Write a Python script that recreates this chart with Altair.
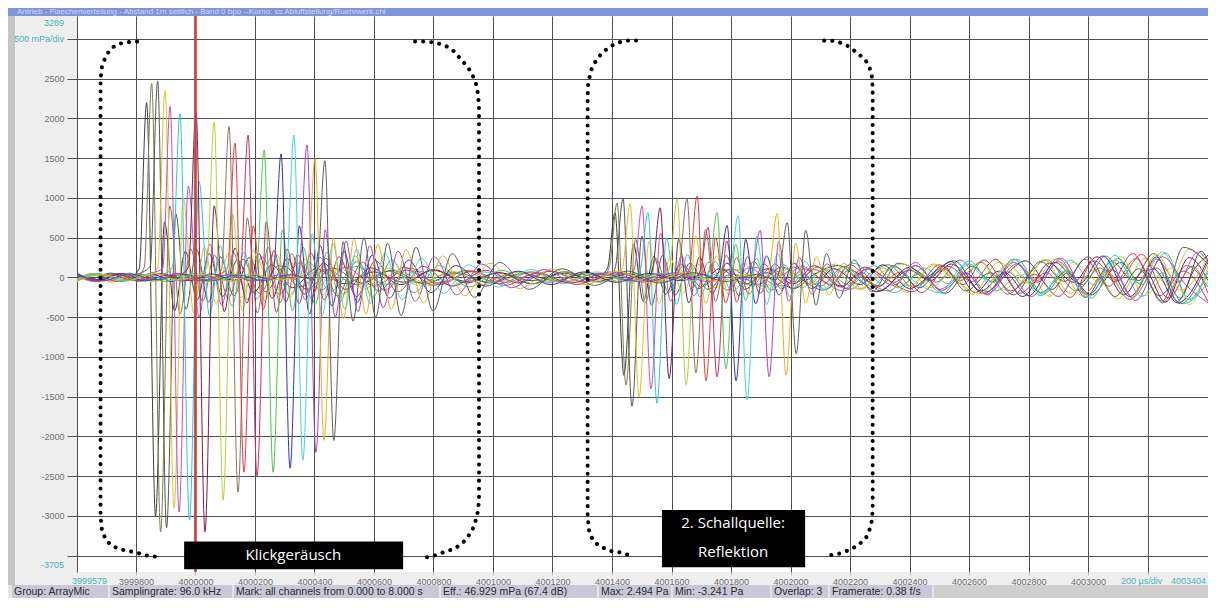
import altair as alt
import pandas as pd

T0 = 4000000  # time origin of the relative times below, in µs

# ---- 17 microphone channels: [time relative to 4000000 µs, sound pressure in mPa] ----
ch_a = [[-398, 40], [-340, -35], [-285, 55], [-230, -25], [-189, 110], [-164, 2200], [-134, -3000], [-104, 700],
        [-70, -420], [-34, 330], [6, -280], [46, 300], [91, -240], [141, 220], [196, -190], [256, 160], [326, -130],
        [406, 110], [500, -80], [600, 70], [700, -60], [800, 90], [910, -50], [1020, 60], [1130, -40], [1240, 50],
        [1340, -30], [1385, 120], [1410, 815], [1440, -1230], [1472, 420], [1505, -300], [1540, 260], [1580, -210],
        [1630, 170], [1690, -140], [1760, 110], [1850, -80], [1920, 60], [2010, -140], [2080, 40], [2160, 150],
        [2240, -60], [2290, -180], [2400, 90], [2470, -40], [2540, 170], [2650, -200], [2720, 20], [2790, 210],
        [2880, -150], [2930, 60], [3010, -220], [3110, 190], [3170, -40], [3230, 260], [3300, -300], [3360, 120],
        [3403, 280]]
ch_b = [[-398, -30], [-345, 50], [-290, -45], [-235, 35], [-205, -20], [-172, 130], [-147, 2440], [-117, -3200],
        [-86, 900], [-52, -460], [-16, 360], [24, -300], [64, 280], [110, -260], [160, 230], [215, -200], [280, 150],
        [350, -120], [440, 100], [540, -90], [650, 80], [750, -70], [860, 60], [970, -50], [1080, 70], [1190, -60],
        [1300, 40], [1365, -20], [1392, 150], [1417, 938], [1447, -1350], [1479, 480], [1512, -320], [1548, 240],
        [1590, -190], [1640, 150], [1700, -120], [1780, 100], [1870, -100], [1930, 110], [2020, -60], [2090, 130],
        [2200, -150], [2260, 30], [2330, 160], [2410, -120], [2520, 100], [2570, -40], [2640, 190], [2730, -210],
        [2800, 40], [2860, 220], [2960, -170], [3040, 120], [3090, -60], [3160, 240], [3250, -320], [3330, 150],
        [3403, -120]]
ch_c = [[-398, 60], [-350, -20], [-300, 45], [-250, -50], [-200, 30], [-152, 140], [-127, 2470], [-97, -3150],
        [-66, 800], [-32, -400], [4, 350], [44, -310], [84, 260], [129, -230], [180, 250], [236, -180], [300, 140],
        [375, -150], [460, 120], [560, -70], [660, 90], [770, -80], [880, 60], [990, -70], [1100, 50], [1210, -40],
        [1320, 60], [1390, -30], [1412, 140], [1437, 988], [1467, -1620], [1500, 520], [1533, -350], [1570, 280],
        [1612, -220], [1662, 180], [1722, -150], [1800, 110], [1890, -90], [1970, 130], [2040, -30], [2110, -160],
        [2200, 90], [2300, -110], [2360, 180], [2450, 20], [2520, -200], [2610, 140], [2680, -60], [2750, 230],
        [2840, -190], [2930, 80], [2990, -250], [3080, 200], [3150, -30], [3220, 300], [3310, -260], [3380, 330],
        [3403, 210]]
ch_d = [[-398, -50], [-340, 30], [-280, -60], [-220, 40], [-165, -30], [-127, 120], [-102, 2350], [-72, -2900],
        [-41, 1000], [-6, -450], [30, 380], [70, -330], [110, 300], [155, -250], [205, 240], [262, -200], [325, 170],
        [400, -140], [485, 110], [580, -90], [690, 70], [790, -100], [900, 80], [1010, -60], [1120, 70], [1230, -50],
        [1340, 40], [1410, -40], [1436, 130], [1461, 926], [1491, -1500], [1524, 450], [1558, -330], [1595, 250],
        [1637, -200], [1687, 170], [1747, -130], [1825, 100], [1915, -120], [1990, 60], [2060, -80], [2150, 170],
        [2230, -140], [2320, 40], [2390, -190], [2480, 150], [2560, -30], [2640, 200], [2710, -160], [2800, 60],
        [2870, -240], [2950, 190], [3040, -60], [3110, 260], [3190, -230], [3280, 120], [3340, -340], [3403, 140]]
ch_e = [[-398, 20], [-335, -55], [-275, 40], [-215, -35], [-160, 45], [-110, 110], [-85, 2150], [-55, -2950],
        [-24, 1150], [12, -500], [48, 420], [88, -350], [128, 310], [174, -280], [224, 260], [282, -210], [346, 180],
        [420, -160], [505, 130], [600, -100], [710, 90], [820, -70], [930, 80], [1040, -60], [1150, 50], [1260, -70],
        [1370, 40], [1450, -30], [1476, 120], [1501, 900], [1531, -1400], [1563, 560], [1597, -300], [1633, 270],
        [1675, -230], [1725, 190], [1785, -160], [1860, 120], [1950, -90], [2040, 140], [2100, -20], [2180, -170],
        [2260, 110], [2350, -60], [2420, 190], [2500, -150], [2590, 60], [2660, -220], [2760, 170], [2830, -40],
        [2900, 240], [2990, -200], [3060, 90], [3140, -280], [3230, 230], [3300, -60], [3370, 320], [3403, 180]]
ch_f = [[-398, -40], [-340, 45], [-280, -30], [-220, 55], [-160, -40], [-110, 30], [-77, 130], [-52, 2060],
        [-20, -3050], [12, 1210], [47, -480], [83, 400], [123, -360], [163, 320], [208, -270], [258, 280], [316, -220],
        [380, 190], [455, -170], [540, 140], [640, -90], [750, 80], [860, -100], [970, 70], [1080, -60], [1190, 80],
        [1300, -50], [1410, 40], [1475, -40], [1496, 110], [1521, 815], [1551, -1580], [1583, 500], [1617, -340],
        [1653, 290], [1695, -240], [1745, 200], [1805, -170], [1880, 130], [1970, -110], [2040, 40], [2120, -150],
        [2210, 180], [2290, -40], [2350, -190], [2450, 120], [2530, -80], [2600, 210], [2690, -170], [2770, 30],
        [2840, -230], [2940, 220], [3020, -90], [3090, 280], [3180, -240], [3250, 60], [3320, -330], [3403, -60]]
ch_g = [[-398, 30], [-330, -45], [-265, 50], [-200, -40], [-140, 35], [-80, -50], [-45, 40], [-23, 140], [2, 2080],
        [32, -3200], [63, 900], [97, -430], [133, 370], [173, -320], [213, 300], [258, -260], [308, 240], [366, -210],
        [430, 180], [505, -150], [590, 120], [690, -90], [800, 100], [910, -70], [1020, 60], [1130, -80], [1240, 70],
        [1350, -50], [1460, 50], [1515, -30], [1537, 120], [1562, 877], [1592, -1270], [1624, 480], [1658, -320],
        [1694, 260], [1736, -200], [1786, 180], [1846, -150], [1920, 110], [2010, -80], [2080, 150], [2170, -110],
        [2240, 60], [2300, -170], [2400, 130], [2460, -20], [2540, 200], [2620, -190], [2700, 80], [2780, -240],
        [2870, 180], [2950, -60], [3030, 260], [3120, -220], [3190, 90], [3260, -310], [3340, 250], [3403, -40]]
ch_h = [[-398, -20], [-335, 50], [-270, -40], [-205, 30], [-140, -55], [-75, 40], [-10, -30], [38, 120], [63, 1950],
        [93, -2800], [124, 800], [158, -420], [194, 350], [234, -300], [274, 290], [319, -250], [369, 230], [427, -220],
        [491, 170], [566, -150], [650, 120], [750, -100], [860, 80], [970, -90], [1080, 70], [1190, -50], [1300, 60],
        [1410, -60], [1510, 40], [1570, -30], [1594, 130], [1619, 988], [1649, -1350], [1681, 520], [1715, -330],
        [1751, 270], [1793, -220], [1843, 180], [1903, -140], [1980, 110], [2070, -100], [2140, 120], [2230, -150],
        [2300, 50], [2380, 170], [2470, -130], [2540, 40], [2610, -210], [2700, 190], [2790, -70], [2850, 230],
        [2940, -200], [3020, 100], [3100, -270], [3190, 240], [3270, -100], [3340, 360], [3403, 120]]
ch_i = [[-398, 50], [-330, -30], [-260, 45], [-190, -50], [-120, 35], [-50, -40], [20, 30], [60, -30], [88, 110],
        [113, 1900], [143, -2700], [174, 750], [208, -450], [244, 380], [284, -320], [324, 300], [369, -280],
        [419, 250], [477, -230], [541, 200], [616, -170], [700, 130], [800, -100], [910, 90], [1020, -80], [1130, 70],
        [1240, -60], [1350, 50], [1460, -40], [1560, 50], [1610, -30], [1627, 140], [1652, 988], [1682, -1200],
        [1714, 600], [1748, -300], [1784, 280], [1826, -230], [1876, 200], [1936, -160], [2010, 130], [2100, -110],
        [2180, 140], [2250, -30], [2330, -170], [2420, 150], [2490, -60], [2570, 220], [2660, -180], [2730, 70],
        [2810, -240], [2900, 200], [2980, -90], [3060, 270], [3150, -250], [3230, 120], [3310, -330], [3403, 190]]
ch_j = [[-398, -40], [-330, 35], [-265, -50], [-195, 45], [-125, -30], [-55, 50], [15, -40], [75, 30], [108, 120],
        [133, 1690], [163, -2450], [194, 650], [228, -400], [264, 340], [304, -310], [344, 290], [389, -260],
        [439, 240], [497, -210], [561, 190], [636, -160], [720, 120], [820, -90], [930, 80], [1040, -100], [1150, 60],
        [1260, -70], [1370, 50], [1480, -50], [1580, 40], [1640, -30], [1661, 120], [1686, 1025], [1716, -1300],
        [1748, 500], [1782, -320], [1818, 250], [1860, -210], [1910, 170], [1970, -140], [2045, 110], [2135, -90],
        [2200, 160], [2290, -120], [2370, 70], [2440, -190], [2530, 140], [2610, -50], [2690, 230], [2770, -200],
        [2860, 60], [2940, -250], [3020, 210], [3100, -40], [3180, 290], [3270, -260], [3350, 140], [3403, -200]]
ch_k = [[-398, 25], [-325, -45], [-255, 40], [-185, -35], [-115, 50], [-45, -45], [25, 35], [95, -30], [135, 20],
        [152, 130], [177, 1790], [207, -2500], [238, 700], [272, -440], [308, 360], [348, -330], [388, 310],
        [433, -280], [483, 260], [541, -240], [605, 210], [680, -180], [765, 140], [865, -110], [975, 90], [1085, -70],
        [1195, 80], [1305, -60], [1415, 60], [1525, -50], [1620, 40], [1675, -30], [1698, 110], [1723, 630],
        [1753, -1250], [1785, 460], [1819, -310], [1855, 260], [1897, -200], [1947, 170], [2007, -140], [2080, 100],
        [2170, -120], [2250, 130], [2330, -40], [2410, -180], [2500, 160], [2580, -90], [2650, 220], [2740, -170],
        [2820, 40], [2900, -240], [2990, 230], [3070, -110], [3150, 300], [3240, -230], [3320, 80], [3403, -300]]
ch_l = [[-398, -35], [-325, 50], [-250, -40], [-175, 35], [-100, -50], [-25, 40], [50, -35], [125, 45], [185, -25],
        [206, 110], [231, 1605], [261, -2450], [292, 600], [326, -420], [362, 380], [402, -340], [442, 320],
        [487, -300], [537, 270], [595, -250], [659, 220], [734, -190], [818, 150], [918, -120], [1028, 90],
        [1138, -80], [1248, 70], [1358, -60], [1468, 50], [1578, -50], [1660, 40], [1705, -30], [1728, 120],
        [1753, 815], [1783, -1150], [1815, 420], [1849, -290], [1885, 240], [1927, -190], [1977, 160], [2037, -130],
        [2110, 100], [2200, -100], [2280, 150], [2360, -130], [2430, 40], [2510, -200], [2600, 170], [2680, -60],
        [2760, 230], [2850, -210], [2930, 90], [3010, -260], [3100, 240], [3180, -90], [3260, 310], [3340, -280],
        [3403, 60]]
ch_m = [[-398, 45], [-320, -30], [-245, 50], [-170, -45], [-95, 30], [-20, -40], [55, 45], [130, -35], [200, 30],
        [240, -20], [263, 120], [288, 1555], [318, -2400], [349, 650], [383, -460], [419, 400], [459, -360],
        [499, 330], [544, -310], [594, 280], [652, -260], [716, 220], [791, -190], [875, 150], [975, -110],
        [1085, 80], [1195, -90], [1305, 70], [1415, -60], [1525, 50], [1630, -40], [1710, 40], [1740, -20],
        [1762, 110], [1787, 654], [1817, -1300], [1849, 480], [1883, -330], [1919, 270], [1961, -220], [2011, 180],
        [2071, -140], [2145, 110], [2235, -90], [2310, 160], [2400, -140], [2470, 30], [2550, 210], [2640, -170],
        [2720, 60], [2800, -230], [2890, 190], [2970, -80], [3050, 270], [3140, -240], [3220, 110], [3300, -320],
        [3403, 230]]
ch_n = [[-398, -25], [-320, 40], [-240, -50], [-160, 35], [-80, -40], [0, 50], [80, -35], [160, 40], [240, -30],
        [290, 25], [306, 120], [331, 1790], [361, -2300], [392, 550], [426, -480], [462, 430], [502, -400],
        [542, 360], [587, -330], [637, 300], [695, -280], [759, 240], [834, -200], [918, 160], [1018, -120],
        [1128, 100], [1238, -80], [1348, 70], [1458, -60], [1568, 50], [1670, -40], [1750, 40], [1780, -20],
        [1799, 120], [1824, 778], [1854, -1540], [1886, 520], [1920, -340], [1956, 300], [1998, -240], [2048, 200],
        [2108, -160], [2180, 130], [2270, -110], [2350, 130], [2420, -60], [2500, -190], [2590, 170], [2670, -40],
        [2750, 230], [2840, -210], [2920, 80], [3000, -250], [3090, 220], [3170, -70], [3250, 320], [3340, -270],
        [3403, 90]]
ch_o = [[-398, 35], [-315, -45], [-230, 40], [-145, -35], [-60, 50], [25, -40], [110, 35], [195, -45], [280, 30],
        [340, -25], [350, 110], [375, 1667], [405, -2200], [436, 600], [470, -500], [506, 460], [546, -430],
        [586, 400], [631, -380], [681, 330], [739, -300], [803, 260], [878, -220], [962, 170], [1062, -130],
        [1172, 100], [1282, -90], [1392, 70], [1502, -60], [1612, 60], [1720, -50], [1810, 40], [1855, -30],
        [1873, 110], [1898, 593], [1928, -1250], [1960, 450], [1994, -300], [2030, 250], [2072, -210], [2122, 170],
        [2182, -140], [2255, 110], [2345, -100], [2420, 150], [2510, -160], [2590, 50], [2660, -210], [2750, 190],
        [2830, -60], [2910, 240], [3000, -220], [3080, 100], [3160, -290], [3250, 260], [3330, -100], [3403, -320]]
ch_p = [[-398, -45], [-310, 35], [-225, -40], [-140, 50], [-55, -35], [30, 40], [115, -50], [200, 35], [285, -30],
        [360, 25], [377, 120], [402, 1494], [432, -2050], [463, 500], [497, -520], [533, 480], [573, -460],
        [613, 420], [658, -400], [708, 350], [766, -320], [830, 270], [905, -230], [990, 180], [1090, -140],
        [1200, 110], [1310, -90], [1420, 80], [1530, -70], [1640, 60], [1750, -50], [1860, 40], [1915, -30],
        [1930, 120], [1955, 802], [1985, -1230], [2017, 430], [2051, -320], [2087, 260], [2129, -220], [2179, 180],
        [2239, -150], [2310, 120], [2400, -110], [2480, 170], [2560, -60], [2640, -200], [2730, 160], [2810, -90],
        [2890, 230], [2980, -230], [3060, 70], [3140, -270], [3230, 290], [3310, -160], [3403, 250]]
ch_q = [[-398, 30], [-310, -40], [-220, 45], [-130, -30], [-40, 40], [50, -45], [140, 30], [230, -40], [320, 35],
        [390, -20], [410, 110], [435, 1469], [465, -2050], [496, 450], [530, -550], [566, 500], [606, -500],
        [646, 430], [691, -480], [741, 380], [799, -420], [863, 300], [938, -250], [1022, 190], [1122, -150],
        [1232, 110], [1342, -100], [1452, 80], [1562, -70], [1672, 60], [1782, -50], [1890, 40], [1950, -30],
        [1964, 110], [1989, 691], [2019, -960], [2051, 593], [2085, -350], [2121, 300], [2163, -260], [2213, 220],
        [2273, -180], [2345, 150], [2435, -130], [2510, 150], [2590, -170], [2670, 60], [2750, -220], [2840, 200],
        [2920, -50], [3000, 260], [3090, -240], [3170, 110], [3250, -300], [3320, 380], [3403, 170]]

CHANNEL_NAMES = ["K%02d" % (i + 1) for i in range(17)]
CHANNEL_POINTS = [ch_a, ch_b, ch_c, ch_d, ch_e, ch_f, ch_g, ch_h, ch_i, ch_j, ch_k, ch_l, ch_m, ch_n, ch_o, ch_p, ch_q]
CHANNEL_COLORS = ["#3c3c3c", "#7d7b4e", "#555555", "#d9c52a", "#c64fc6", "#2fc6d6", "#7b1a52", "#b5cf3c",
                  "#8c725f", "#e23b3b", "#c9305f", "#4cc44c", "#2f34b4", "#45d3d8", "#a646c4", "#e2b21e", "#5e5e5e"]

# ---- axes ----
x_ticks = [3999800, 4000000, 4000200, 4000400, 4000600, 4000800, 4001000, 4001200, 4001400, 4001600,
           4001800, 4002000, 4002200, 4002400, 4002600, 4002800, 4003000, 4003200]
y_ticks = [-3500, -3000, -2500, -2000, -1500, -1000, -500, 0, 500, 1000, 1500, 2000, 2500, 3000]
X_DOMAIN = [3999602, 4003403]
Y_DOMAIN = [-3705, 3289]

# ---- annotations (data units: µs relative to 4000000, mPa) ----
marker_t = [0]
bracket_click_open = [[-196, 2967], [-227, 2961], [-253, 2942], [-280, 2893], [-300, 2794], [-314, 2658],
                      [-319, 2484], [-319, -3000], [-314, -3186], [-300, -3310], [-277, -3384], [-237, -3434],
                      [-200, -3458], [-169, -3495], [-119, -3520]]
bracket_click_close = [[738, 2967], [772, 2967], [806, 2955], [839, 2918], [866, 2856], [889, 2757], [913, 2658],
                       [930, 2559], [943, 2435], [950, 2299], [953, 2138], [953, -2814], [947, -3000], [930, -3186],
                       [906, -3310], [873, -3409], [833, -3458], [806, -3495], [779, -3520], [752, -3520]]
bracket_refl_open = [[1481, 2980], [1454, 2980], [1427, 2961], [1400, 2918], [1377, 2856], [1360, 2794],
                     [1343, 2707], [1330, 2608], [1320, 2447], [1318, 2261], [1318, -3000], [1323, -3186],
                     [1336, -3310], [1360, -3384], [1400, -3446], [1427, -3458], [1447, -3483], [1471, -3495]]
bracket_refl_close = [[2113, 2980], [2143, 2976], [2166, 2955], [2190, 2918], [2213, 2856], [2234, 2794],
                      [2254, 2720], [2266, 2633], [2274, 2521], [2276, 2360], [2276, -2938], [2271, -3124],
                      [2254, -3272], [2227, -3371], [2200, -3421], [2177, -3458], [2150, -3489], [2123, -3495]]
box_t0 = [-38, 1568]
box_t1 = [698, 2049]
box_v0 = [-3669, -3644]
box_v1 = [-3322, -2926]
note_text = ["Klickgeräusch", "2. Schallquelle:", "Reflektion"]
note_t = [329, 1807, 1807]
note_v = [-3495, -3087, -3458]

TITLE_TEXT = "Antrieb - Flaechenverteilung - Abstand 1m seitlich - Band 0 bpo --Korno: ss Abluftstellung/Ruehrwerk.chl"
STATUS_TEXTS = ["Group: ArrayMic", "Samplingrate: 96.0 kHz", "Mark: all channels from 0.000 to 8.000 s",
                "Eff.: 46.929 mPa (67.4 dB)", "Max: 2.494 Pa", "Min: -3.241 Pa", "Overlap: 3",
                "Framerate: 0.38 f/s"]

# ---- layout / style ----
W, H = 1131, 556
PAD = {"left": 69, "top": 8, "right": 0, "bottom": 26}
STATUS_BOX_PX = [(-65, 31), (33, 155), (157, 362), (364, 520), (522, 594), (596, 693), (695, 751), (753, 855)]
GRID = "#4f4f4f"
LABEL = "#6f6f6f"
CYAN = "#3fb4bf"
FONT = "Liberation Sans"

# ---- data frames ----
wave = pd.DataFrame([{"ch": n, "t": T0 + t, "v": v}
                     for n, pts in zip(CHANNEL_NAMES, CHANNEL_POINTS) for t, v in pts])
br = pd.DataFrame([{"b": bn, "i": i, "t": T0 + t, "v": v}
                   for bn, pts in zip(["b1", "b2", "b3", "b4"],
                                      [bracket_click_open, bracket_click_close, bracket_refl_open, bracket_refl_close])
                   for i, (t, v) in enumerate(pts)])
boxes = pd.DataFrame({"t0": [T0 + t for t in box_t0], "t1": [T0 + t for t in box_t1], "v0": box_v0, "v1": box_v1})
notes = pd.DataFrame({"txt": note_text, "t": [T0 + t for t in note_t], "v": note_v})
marker = pd.DataFrame({"t": [T0 + t for t in marker_t]})
ONE = pd.DataFrame({"a": [0]})

xs = alt.Scale(domain=X_DOMAIN, nice=False, zero=False)
ys = alt.Scale(domain=Y_DOMAIN, nice=False, zero=False)

x_axis = alt.Axis(values=x_ticks, labelExpr="datum.value == 4003200 ? '' : '' + datum.value",
                  grid=True, gridColor=GRID, gridWidth=1, gridOpacity=1, domain=False, ticks=True,
                  tickColor="#b8b8b8", tickSize=3, labelColor=LABEL, labelFont=FONT, labelFontSize=9,
                  labelPadding=2, title=None, labelFlush=False, labelOverlap=False)
y_axis = alt.Axis(values=y_ticks,
                  labelExpr="datum.value == 3000 || datum.value == -3500 ? '' : '' + datum.value",
                  grid=True, gridColor=GRID, gridWidth=1, gridOpacity=1, domain=True, domainColor=GRID,
                  ticks=True, tickColor=GRID, tickSize=10, labelColor=LABEL, labelFont=FONT, labelFontSize=9,
                  labelPadding=3, title=None, labelOverlap=False)


def X(field):
    return alt.X(field, type="quantitative", scale=xs, axis=x_axis)


def Y(field):
    return alt.Y(field, type="quantitative", scale=ys, axis=y_axis)


layers = []

# window decorations (outside the plot)
layers.append(alt.Chart(ONE).mark_rect(color="#c6c6c6").encode(
    x=alt.value(-69), x2=alt.value(-62), y=alt.value(0), y2=alt.value(H + 13)))
layers.append(alt.Chart(ONE).mark_rect(color="#7f95da").encode(
    x=alt.value(-69), x2=alt.value(W), y=alt.value(-8), y2=alt.value(0)))
layers.append(alt.Chart(ONE).mark_text(text=TITLE_TEXT, align="left", baseline="middle", color="#cdd7f3",
                                       font=FONT, fontSize=8).encode(x=alt.value(-60), y=alt.value(-4)))
layers.append(alt.Chart(ONE).mark_rect(color="#e4e4e4").encode(
    x=alt.value(-69), x2=alt.value(857), y=alt.value(H + 13), y2=alt.value(H + 26)))
layers.append(alt.Chart(ONE).mark_rect(color="#cfcfcf").encode(
    x=alt.value(857), x2=alt.value(W), y=alt.value(H + 13), y2=alt.value(H + 26)))
for (x0, x1), txt in zip(STATUS_BOX_PX, STATUS_TEXTS):
    layers.append(alt.Chart(ONE).mark_rect(color="#c8c8d9").encode(
        x=alt.value(x0), x2=alt.value(x1), y=alt.value(H + 13), y2=alt.value(H + 26)))
    layers.append(alt.Chart(ONE).mark_text(text=txt, align="left", baseline="middle", color="#2b2b2b",
                                           font=FONT, fontSize=10.5).encode(x=alt.value(x0 + 2),
                                                                            y=alt.value(H + 20)))

# waveforms
layers.append(alt.Chart(wave).mark_line(strokeWidth=1, interpolate="monotone").encode(
    x=X("t"), y=Y("v"),
    color=alt.Color("ch:N", scale=alt.Scale(domain=CHANNEL_NAMES, range=CHANNEL_COLORS), legend=None),
))

# red cursor
layers.append(alt.Chart(marker).mark_rule(color="#c24a40", strokeWidth=3, opacity=0.9).encode(x=X("t")))

# dotted brackets
layers.append(alt.Chart(br).mark_line(color="black", strokeWidth=4, strokeCap="round",
                                      strokeDash=[0.1, 8]).encode(
    x=X("t"), y=Y("v"), detail="b:N", order="i:Q"))

# black label boxes and texts
layers.append(alt.Chart(boxes).mark_rect(color="black").encode(
    x=X("t0"), x2="t1:Q", y=Y("v0"), y2="v1:Q"))
layers.append(alt.Chart(notes).mark_text(color="white", font="Open Sans", fontSize=15, align="center",
                                         baseline="middle").encode(x=X("t"), y=Y("v"), text="txt:N"))

# cyan edge labels of the axes
layers.append(alt.Chart(ONE).mark_text(text="3289", align="right", baseline="top", color=CYAN, font=FONT,
                                       fontSize=9, dy=3).encode(
    x=alt.value(-13), y=alt.YDatum(3289, type="quantitative", scale=ys, axis=y_axis)))
layers.append(alt.Chart(ONE).mark_text(text="500 mPa/div", align="right", baseline="middle", color=CYAN,
                                       font=FONT, fontSize=9).encode(
    x=alt.value(-13), y=alt.YDatum(3000, type="quantitative", scale=ys, axis=y_axis)))
layers.append(alt.Chart(ONE).mark_text(text="-3705", align="right", baseline="bottom", color=CYAN, font=FONT,
                                       fontSize=9, dy=-2).encode(
    x=alt.value(-13), y=alt.YDatum(-3705, type="quantitative", scale=ys, axis=y_axis)))
layers.append(alt.Chart(ONE).mark_text(text="3999579", align="left", baseline="top", color=CYAN, font=FONT,
                                       fontSize=9, dx=-5).encode(
    x=alt.XDatum(3999602, type="quantitative", scale=xs, axis=x_axis), y=alt.value(H + 5)))
layers.append(alt.Chart(ONE).mark_text(text="200 µs/div", align="center", baseline="top", color=CYAN, font=FONT,
                                       fontSize=9, dx=-6).encode(
    x=alt.XDatum(4003200, type="quantitative", scale=xs, axis=x_axis), y=alt.value(H + 5)))
layers.append(alt.Chart(ONE).mark_text(text="4003404", align="right", baseline="top", color=CYAN, font=FONT,
                                       fontSize=9, dx=-2).encode(
    x=alt.XDatum(4003403, type="quantitative", scale=xs, axis=x_axis), y=alt.value(H + 5)))

chart = alt.layer(*layers).properties(
    width=W, height=H, padding=PAD, autosize=alt.AutoSizeParams(type="none")
).configure(background="#eeeeee").configure_view(fill="white", stroke=None)

chart.save("out.html", embed_options={"renderer": "svg", "actions": False})
